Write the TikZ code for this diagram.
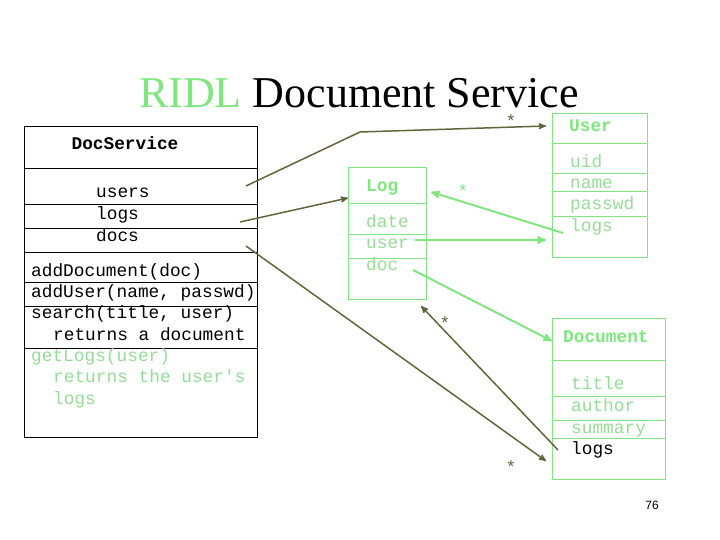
\documentclass[tikz,border=0pt]{standalone}
\usepackage{fontspec}
\setmainfont{Liberation Serif}
\setmonofont{Liberation Mono}
\newfontfamily\arial{Liberation Sans}
\usepackage{tikz}
\usetikzlibrary{arrows,shapes}

\definecolor{ridlgreen}{RGB}{128,230,128}
\definecolor{fieldgreen}{RGB}{150,220,150}
\definecolor{olive}{RGB}{100,100,60}

\begin{document}
\begin{tikzpicture}[x=1pt, y=-1pt, >=stealth',
  txt/.style={anchor=base west, inner sep=0pt, font=\ttfamily\fontsize{17.8}{21}\selectfont},
  head/.style={txt, font=\ttfamily\bfseries\fontsize{17.8}{21}\selectfont},
  olivearrow/.style={->, draw=olive, line width=1.5pt},
  greenarrow/.style={->, draw=ridlgreen, line width=2pt},
  star/.style={inner sep=0pt, font=\ttfamily\fontsize{17.8}{21}\selectfont}]

\useasboundingbox (0,0) rectangle (720,540);

\node[anchor=base, font=\fontsize{44}{48}\selectfont, inner sep=0pt] (title) at (359,108)
  {\textcolor{ridlgreen}{RIDL} Document Service};

% DocService
\draw (24,126) rectangle (257,437);
\foreach \y in {168,204,228,252,282,306,348}
  \draw (24,\y) -- (257,\y);
\node[head, anchor=base] (ds) at (125,150) {DocService};
\node[txt] (dsUsers) at (96,198) {users};
\node[txt] (dsLogs) at (96,219) {logs};
\node[txt] (dsDocs) at (96,241) {docs};
\node[txt] (m1) at (31,276) {addDocument(doc)};
\node[txt] (m2) at (31,297) {addUser(name, passwd)};
\node[txt] (m3) at (31,318) {search(title, user)};
\node[txt] (m3b) at (53,340) {returns a document};
\node[txt, text=fieldgreen] (m4) at (31,361) {getLogs(user)};
\node[txt, text=fieldgreen] (m4b) at (53,382) {returns the user's};
\node[txt, text=fieldgreen] (m4c) at (53,404) {logs};

% User
\draw[ridlgreen, line width=1pt] (552,114) rectangle (647,257);
\foreach \y in {144,174,192,217}
  \draw[ridlgreen, line width=1pt] (552,\y) -- (647,\y);
\node[head, text=ridlgreen] (user) at (569,132) {User};
\node[txt, text=fieldgreen] (uUid) at (570,168) {uid};
\node[txt, text=fieldgreen] (uName) at (570,189) {name};
\node[txt, text=fieldgreen] (uPass) at (570,210) {passwd};
\node[txt, text=fieldgreen] (uLogs) at (570,231) {logs};

% Log
\draw[ridlgreen, line width=1pt] (348,168) rectangle (426,299);
\foreach \y in {204,234,258}
  \draw[ridlgreen, line width=1pt] (348,\y) -- (426,\y);
\node[head, text=ridlgreen] (log) at (366,192) {Log};
\node[txt, text=fieldgreen] (lDate) at (366,228) {date};
\node[txt, text=fieldgreen] (lUser) at (366,248) {user};
\node[txt, text=fieldgreen] (lDoc) at (366,270) {doc};

% Document
\draw[ridlgreen, line width=1pt] (552,318) rectangle (665,479);
\foreach \y in {360,396,420,438}
  \draw[ridlgreen, line width=1pt] (552,\y) -- (665,\y);
\node[head, text=ridlgreen] (doc) at (563,342) {Document};
\node[txt, text=fieldgreen] (dTitle) at (571,389) {title};
\node[txt, text=fieldgreen] (dAuthor) at (571,411) {author};
\node[txt, text=fieldgreen] (dSummary) at (571,433) {summary};
\node[txt] (dLogs) at (571,454) {logs};

\coordinate (usersOut) at (246,186);
\coordinate (bend) at (360,132);
\coordinate (userIn) at (546,126);
\coordinate (logsOut) at (240,222);
\coordinate (logIn) at (348,198);
\coordinate (docsOut) at (246,246);
\coordinate (docIn) at (546,461);
\coordinate (dLogsOut) at (558,450);
\coordinate (logBottom) at (421,306);
\coordinate (uLogsOut) at (563,233);
\coordinate (logRight) at (431,192);
\coordinate (lUserOut) at (415,240);
\coordinate (userLeft) at (546,240);
\coordinate (lDocOut) at (413,270);
\coordinate (docLeft) at (552,341);

\draw[olivearrow] (usersOut) -- (bend) -- (userIn);
\draw[olivearrow] (logsOut) -- (logIn);
\draw[olivearrow] (docsOut) -- (docIn);
\draw[olivearrow] (dLogsOut) -- (logBottom);
\draw[greenarrow] (uLogsOut) -- (logRight);
\draw[greenarrow] (lUserOut) -- (userLeft);
\draw[greenarrow] (lDocOut) -- (docLeft);

\node[star, text=olive] (s1) at (511,121) {*};
\node[star, text=ridlgreen] (s2) at (463,191) {*};
\node[star, text=olive] (s3) at (445,323) {*};
\node[star, text=olive] (s4) at (511,467) {*};

\node[font=\arial\fontsize{12}{14}\selectfont] (page) at (652,505) {76};

\end{tikzpicture}
\end{document}
